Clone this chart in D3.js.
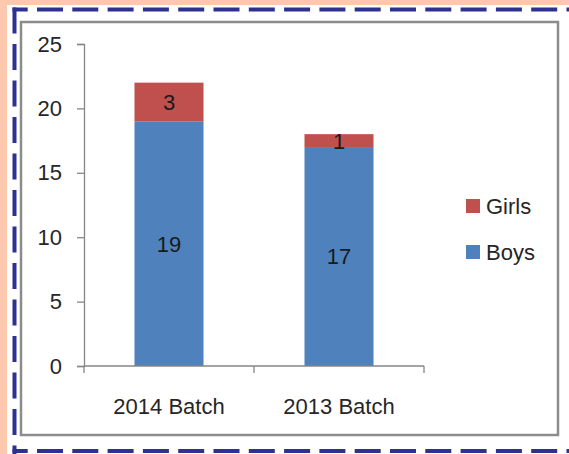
<!DOCTYPE html>
<html>
<head>
<meta charset="utf-8">
<script src="https://cdn.jsdelivr.net/npm/d3@7"></script>
<style>
  body { margin: 0; background: #fff; }
  svg { display: block; font-family: "Liberation Sans", Arial, sans-serif; }
</style>
</head>
<body>
<div id="chart"></div>
<script>
const batches = ["2014 Batch", "2013 Batch"];
const boys = [19, 17];
const girls = [3, 1];
const seriesKeys = ["Boys", "Girls"];
const legendKeys = ["Girls", "Boys"];
const yTicks = [0, 5, 10, 15, 20, 25];

const colors = { Boys: "#4f81bd", Girls: "#c0504d" };

const width = 569;
const height = 454;

const svg = d3.select("#chart").append("svg").attr("width", width).attr("height", height);

// page background + dashed frame
svg.append("rect").attr("width", width).attr("height", height).attr("fill", "#fcc9ae");
svg.append("rect").attr("x", 7).attr("y", 5).attr("width", width).attr("height", height).attr("fill", "#fff");

const dash = svg.append("g").attr("stroke", "#2e3192").attr("stroke-width", 4).attr("fill", "none");
dash.append("line").attr("x1", 12.5).attr("x2", width).attr("y1", 9.5).attr("y2", 9.5)
  .attr("stroke-dasharray", "26 9.3").attr("stroke-dashoffset", 10.8);
dash.append("line").attr("x1", 14.5).attr("x2", 14.5).attr("y1", 7.5).attr("y2", 454)
  .attr("stroke-dasharray", "26 10.5").attr("stroke-dashoffset", 0);
dash.append("line").attr("x1", 12.5).attr("x2", width).attr("y1", 451).attr("y2", 451)
  .attr("stroke-dasharray", "26 9.3").attr("stroke-dashoffset", 10.8);

// chart area
svg.append("rect").attr("x", 21).attr("y", 22).attr("width", 537).attr("height", 413)
  .attr("fill", "#fff").attr("stroke", "#8c8c8c").attr("stroke-width", 2.5);

const x = d3.scaleBand().domain(batches).range([84, 424]).paddingInner(0.594).paddingOuter(0.297);
const y = d3.scaleLinear().domain([0, 25]).range([366, 44]);

const rows = batches.map((b, i) => ({ batch: b, Boys: boys[i], Girls: girls[i] }));
const stacked = d3.stack().keys(seriesKeys)(rows);

// bars
svg.append("g")
  .selectAll("g")
  .data(stacked)
  .join("g")
  .attr("fill", (d) => colors[d.key])
  .selectAll("rect")
  .data((d) => d)
  .join("rect")
  .attr("x", (d) => x(d.data.batch))
  .attr("width", x.bandwidth())
  .attr("y", (d) => y(d[1]))
  .attr("height", (d) => y(d[0]) - y(d[1]));

// value labels
svg.append("g")
  .selectAll("g")
  .data(stacked)
  .join("g")
  .selectAll("text")
  .data((d) => d.map((v) => ({ v, key: d.key })))
  .join("text")
  .attr("x", (d) => x(d.v.data.batch) + x.bandwidth() / 2)
  .attr("y", (d) => (y(d.v[0]) + y(d.v[1])) / 2)
  .attr("dy", "0.36em")
  .attr("text-anchor", "middle")
  .attr("font-size", 22)
  .attr("fill", "#1a1a1a")
  .text((d) => d.v.data[d.key]);

// y axis
const yAxis = svg.append("g")
  .attr("transform", "translate(84,0)")
  .call(d3.axisLeft(y).tickValues(yTicks).tickSize(7).tickPadding(15));
yAxis.select(".domain").attr("stroke", "#868686").attr("stroke-width", 1.3);
yAxis.selectAll(".tick line").attr("stroke", "#868686").attr("stroke-width", 1.3);
yAxis.selectAll(".tick text").attr("font-size", 22).attr("fill", "#262626").attr("font-family", null);

// x axis
const xAxis = svg.append("g")
  .attr("transform", "translate(0,366)")
  .call(d3.axisBottom(x).tickSize(0).tickPadding(32));
xAxis.select(".domain").attr("stroke", "#868686").attr("stroke-width", 1.3).attr("d", "M84,0H424");
xAxis.selectAll(".tick text").attr("font-size", 22).attr("fill", "#262626").attr("font-family", null);
xAxis.selectAll(".divider")
  .data([0, 1, 2])
  .join("line")
  .attr("x1", (d) => 84 + d * x.step())
  .attr("x2", (d) => 84 + d * x.step())
  .attr("y1", 0)
  .attr("y2", 7)
  .attr("stroke", "#868686")
  .attr("stroke-width", 1.3);

// legend
const legend = svg.append("g")
  .selectAll("g")
  .data(legendKeys)
  .join("g")
  .attr("transform", (d, i) => `translate(466,${199 + i * 46})`);
legend.append("rect").attr("width", 14).attr("height", 14).attr("fill", (d) => colors[d]);
legend.append("text").attr("x", 20).attr("y", 7).attr("dy", "0.36em")
  .attr("font-size", 22).attr("fill", "#262626").text((d) => d);
</script>
</body>
</html>
